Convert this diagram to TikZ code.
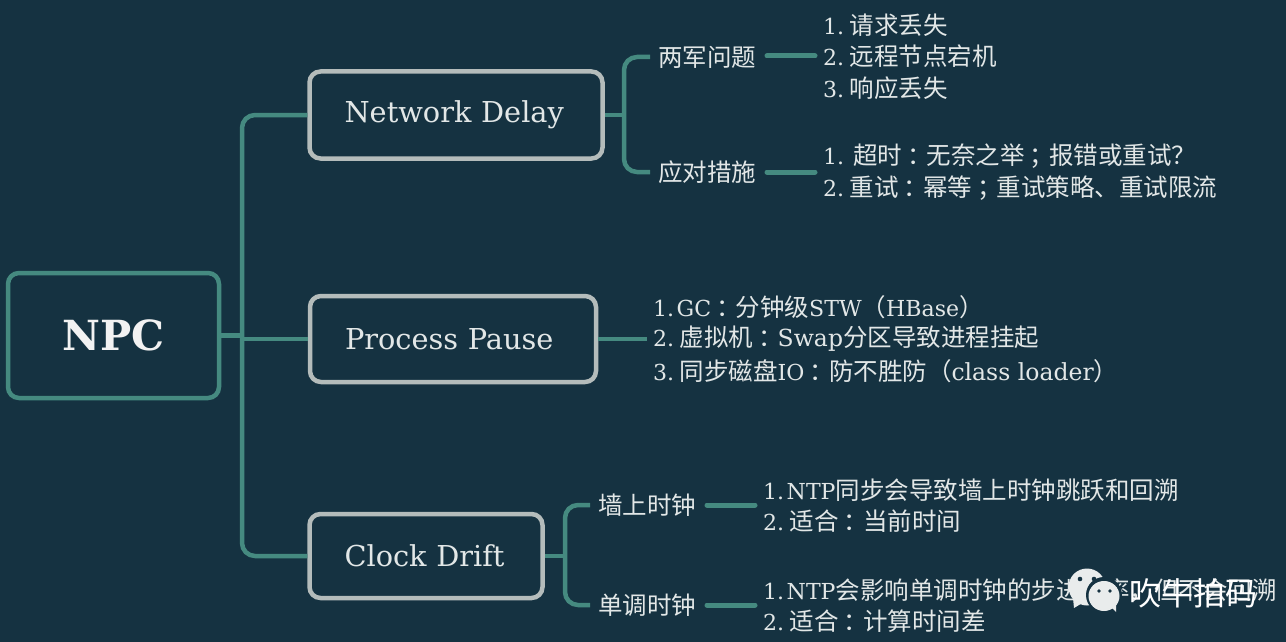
\documentclass[tikz,border=0pt]{standalone}
\usepackage{fontspec}
\setmainfont{DejaVu Serif}
\newfontfamily\cjk{Noto Sans CJK SC}
\newfontfamily\latf[Scale=0.9]{DejaVu Serif}
\newfontfamily\latg[Scale=0.96]{DejaVu Serif}
\newcommand{\lat}[1]{{\latf #1}}
\newcommand{\latw}[1]{{\latg #1}}
\newcommand{\colonc}{\kern .2em：\kern -.2em}
\newcommand{\semic}{\kern .2em；\kern -.2em}
\definecolor{bgc}{HTML}{153241}
\definecolor{tealc}{HTML}{458A80}
\definecolor{greyb}{HTML}{B4BCBB}
\definecolor{txt}{HTML}{E2E7E7}
\definecolor{markc}{HTML}{E9ECEC}
\tikzset{
 topbox/.style={draw=greyb,line width=4.5pt,rounded corners=11pt,fill=bgc,inner xsep=35pt,inner ysep=0pt,align=left,text=txt,font=\fontsize{28.8}{30}\selectfont},
 rootbox/.style={draw=tealc,line width=4.5pt,rounded corners=11pt,fill=bgc,inner sep=0pt,font=\fontsize{41.5}{44}\selectfont\bfseries,text=white!95!black},
 conn/.style={draw=tealc,line width=4.5pt,rounded corners=13pt},
 stub/.style={draw=tealc,line width=5pt,line cap=round},
 sub/.style={text=txt,font=\fontsize{24.5}{26}\cjk,inner sep=0pt,anchor=center},
 item/.style={text=txt,font=\fontsize{24.5}{26}\cjk,inner sep=0pt,anchor=west},
}
\begin{document}
\begin{tikzpicture}[x=1pt,y=-1pt]
\useasboundingbox (0,0) rectangle (1286,642);
\fill[bgc] (0,0) rectangle (1286,642);
% connector junctions
\coordinate (j00) at (240,335.5);
\coordinate (j0) at (242,339);
\coordinate (j0t) at (242,115);
\coordinate (j0b) at (242,556);
\coordinate (j1) at (624,115);
\coordinate (j1t) at (624,57);
\coordinate (j1b) at (624,172);
\coordinate (j2) at (565,556);
\coordinate (j2t) at (565,505);
\coordinate (j2b) at (565,605);
\coordinate (s1) at (650,57);
\coordinate (s2) at (650,172);
\coordinate (s3) at (590,505);
\coordinate (s4) at (590,605);
\coordinate (e1) at (767,56); \coordinate (e2) at (815,56);
\coordinate (e3) at (767,172); \coordinate (e4) at (815,172);
\coordinate (e6) at (647,339);
\coordinate (e7) at (707,505); \coordinate (e8) at (755,505);
\coordinate (e9) at (707,605); \coordinate (e10) at (755,605);
% boxes
\node[rootbox,minimum width=211pt,minimum height=125pt] (npc) at (113.5,335.5) {NPC};
\node[topbox,text width=223pt,minimum height=87pt] (nd) at (456,115) {Network Delay};
\node[topbox,text width=216pt,minimum height=86pt] (pp) at (453,339) {Process Pause};
\node[topbox,text width=163pt,minimum height=84pt] (cd) at (426,556) {Clock Drift};
% subtopics
\node[sub] (ts) at (707,57) {两军问题};
\node[sub] (cs) at (707,172) {应对措施};
\node[sub] (wall) at (647,505) {墙上时钟};
\node[sub] (mono) at (647,605) {单调时钟};
% items
\node[item] (a1) at (823,25) {\lat{1.}\hspace{5.5pt}请求丢失};
\node[item] (a2) at (823,56) {\lat{2.}\hspace{5.5pt}远程节点宕机};
\node[item] (a3) at (823,88) {\lat{3.}\hspace{5.5pt}响应丢失};
\node[item] (b1) at (823,156) {\lat{1.}\hspace{9pt}超时\colonc 无奈之举\semic 报错或重试？};
\node[item] (b2) at (823,188) {\lat{2.}\hspace{5.5pt}重试\colonc 幂等\semic 重试策略、重试限流};
\node[item] (c1) at (653,307) {\lat{1.}\hspace{2.5pt}\lat{GC}\colonc 分钟级\lat{STW}（\lat{HBase}）};
\node[item] (c2) at (653,339) {\lat{2.}\hspace{5.5pt}虚拟机\colonc \latw{Swap}分区导致进程挂起};
\node[item] (c3) at (653,371) {\lat{3.}\hspace{5.5pt}同步磁盘\lat{IO}\colonc 防不胜防（\latw{class loader}）};
\node[item] (d1) at (763,490) {\lat{1.}\hspace{2.5pt}\lat{NTP}同步会导致墙上时钟跳跃和回溯};
\node[item] (d2) at (763,521) {\lat{2.}\hspace{5.5pt}适合\colonc 当前时间};
\node[item] (f1) at (763,590) {\lat{1.}\hspace{2.5pt}\lat{NTP}会影响单调时钟的步进频率，但不会回溯};
\node[item] (f2) at (763,621) {\lat{2.}\hspace{5.5pt}适合\colonc 计算时间差};
% connectors
\draw[conn] (npc.east) -- (j00);
\draw[conn] (nd.west) -- (j0t) -- (j0b) -- (cd.west);
\draw[conn] (j0) -- (pp.west);
\draw[conn] (nd.east) -- (j1);
\draw[conn] (s1) -- (j1t) -- (j1b) -- (s2);
\draw[conn] (cd.east) -- (j2);
\draw[conn] (s3) -- (j2t) -- (j2b) -- (s4);
\draw[stub] (e1) -- (e2);
\draw[stub] (e3) -- (e4);
\draw[conn] (pp.east) -- (e6);
\draw[stub] (e7) -- (e8);
\draw[stub] (e9) -- (e10);
% watermark
\fill[markc] (1087,587) ellipse [x radius=18.5pt,y radius=18.5pt];
\fill[markc] (1073,598) -- (1074,608) -- (1084,602) -- cycle;
\fill[bgc] (1104,595) circle (18pt);
\fill[markc] (1104,596) ellipse [x radius=15.5pt,y radius=15pt];
\fill[markc] (1110,606) -- (1116,612) -- (1116,603) -- cycle;
\fill[bgc] (1080,579) circle (2.3pt) (1094,579) circle (2.3pt) (1099,591) circle (1.9pt) (1110,591) circle (1.9pt);
\node[text=white,font=\fontsize{32}{34}\cjk,inner sep=0pt] (brand) at (1193,593) {吹牛拍码};
\end{tikzpicture}
\end{document}
